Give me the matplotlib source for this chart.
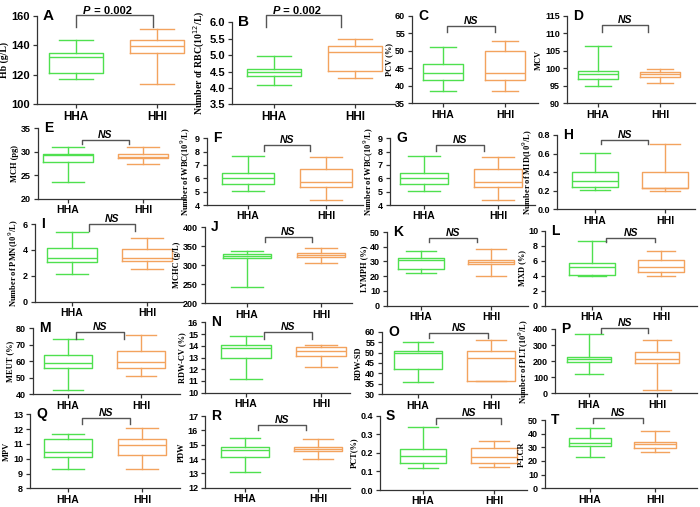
import matplotlib
matplotlib.use("Agg")
import matplotlib.pyplot as plt
from matplotlib.ticker import FormatStrFormatter
import numpy as np

groups = ["HHA", "HHI"]
letters = list("ABCDEFGHIJKLMNOPQRST")
ylabels = ["Hb (g/L)", "Number of RBC(10$^{12}$/L)", "PCV (%)", "MCV",
           "MCH (pg)", "Number of WBC(10$^{9}$/L)", "Number of WBC(10$^{9}$/L)", "Number of MID(10$^{9}$/L)",
           "Number of PMN(10$^{9}$/L)", "MCHC (g/L)", "LYMPH (%)", "MXD (%)",
           "MEUT (%)", "RDW-CV (%)", "RDW-SD", "Number of PLT(10$^{9}$/L)",
           "MPV", "PDW", "PCT(%)", "P-LCR"]
sig = ["P = 0.002", "P = 0.002"] + ["NS"] * 18

# five number summaries: whisker low, q1, median, q3, whisker high
hha = [[117.0, 121.1, 131.9, 134.6, 143.7],
       [4.09, 4.36, 4.48, 4.57, 4.97],
       [38.5, 41.65, 43.6, 46.1, 51.0],
       [95.0, 96.9, 98.5, 99.3, 106.3],
       [23.7, 27.8, 29.3, 29.6, 31.0],
       [5.07, 5.54, 6.0, 6.37, 7.67],
       [5.07, 5.54, 6.0, 6.37, 7.67],
       [0.205, 0.235, 0.305, 0.405, 0.605],
       [2.15, 3.1, 3.36, 4.13, 5.4],
       [243.5, 320, 324.5, 328, 337.5],
       [22.0, 24.7, 31.0, 32.1, 37.1],
       [3.95, 4.15, 5.1, 5.65, 8.6],
       [42.4, 56.0, 59.0, 64.0, 73.6],
       [11.17, 13.0, 13.8, 14.1, 14.8],
       [36.0, 42.0, 49.6, 50.9, 54.9],
       [118, 193, 213, 228, 369],
       [9.28, 10.13, 10.47, 11.31, 11.67],
       [13.07, 14.16, 14.63, 14.86, 15.49],
       [0.12, 0.147, 0.183, 0.22, 0.341],
       [22.7, 30.9, 32.9, 37.0, 44.3]]
hhi = [[113.8, 134.6, 139.6, 143.7, 151.0],
       [4.29, 4.52, 5.09, 5.29, 5.48],
       [38.5, 41.65, 43.7, 50.0, 52.9],
       [95.7, 97.4, 98.3, 99.0, 99.7],
       [27.4, 28.6, 29.0, 29.5, 31.0],
       [4.41, 5.37, 5.75, 6.69, 7.57],
       [4.41, 5.37, 5.75, 6.69, 7.57],
       [0.2, 0.23, 0.23, 0.4, 0.7],
       [2.5, 3.15, 3.36, 4.05, 4.95],
       [304.5, 322, 326.5, 331, 344],
       [20.1, 28.3, 29.4, 31.0, 38.2],
       [4.0, 4.53, 5.2, 6.1, 7.33],
       [51.0, 56.0, 59.7, 66.0, 75.8],
       [12.2, 13.15, 13.55, 13.9, 14.1],
       [36.2, 36.4, 47.5, 50.6, 56.0],
       [18, 187, 213, 259, 332],
       [9.28, 10.25, 10.93, 11.3, 12.1],
       [14.0, 14.55, 14.7, 14.86, 15.37],
       [0.122, 0.147, 0.175, 0.224, 0.265],
       [26.8, 29.7, 32.2, 34.1, 41.9]]

# y range and tick step, decimals of tick labels
yranges = [(100, 160, 20), (3.5, 6.0, 0.5), (35, 60, 5), (90, 115, 5),
           (20, 35, 5), (4, 9, 1), (4, 9, 1), (0, 0.8, 0.2),
           (0, 6, 2), (200, 400, 50), (0, 50, 10), (0, 10, 2),
           (40, 80, 10), (10, 16, 1), (30, 60, 5), (0, 400, 100),
           (8, 13, 1), (12, 17, 1), (0, 0.4, 0.1), (0, 50, 10)]
ydec = [0, 1, 0, 0, 0, 0, 0, 1, 0, 0, 0, 0, 0, 0, 0, 0, 0, 0, 1, 0]

# layout in pixels: spine x, HHA x, HHI x, axis right end, top y, bottom y
layout = [(37, 76, 157, 197, 16, 104.3), (232, 274, 355, 395, 22.3, 104.3),
          (412, 443, 505, 538, 15.7, 103.3), (567, 598, 660, 695, 15.7, 103.3),
          (38, 68, 143, 185, 128.3, 199), (207, 248, 326, 363, 138.3, 205),
          (390, 424, 498, 535, 138.3, 205), (557, 595, 665, 695, 135, 209.3),
          (35, 72, 147, 183, 224, 301.7), (205, 247, 321, 352, 227, 303.3),
          (387, 421, 491, 528, 232, 305.7), (545, 592, 661, 697, 230.7, 305.7),
          (33, 68, 141, 180, 328, 394.3), (205, 246, 321, 350, 322.3, 392.7),
          (382, 418, 491, 527, 331.7, 394.3), (555, 589, 657, 697, 329, 393.3),
          (30, 68, 142, 180, 414.3, 488.3), (205, 245, 318, 350, 416, 487.7),
          (380, 423, 494, 527, 415.7, 490), (545, 590, 655, 697, 420, 488.3)]
# bracket: x left, x right, top, leg end (data units)
brackets = [(1.0, 1.95, 160.7, 152.7), (0.9, 1.83, 6.22, 5.87),
            (1.06, 1.84, 57.1, 55.4), (1.06, 1.81, 112.3, 110.4),
            (1.19, 1.81, 32.5, 31.6), (1.21, 1.8, 8.5, 8.05),
            (1.16, 1.81, 8.5, 8.05), (1.09, 1.76, 0.75, 0.70),
            (1.22, 1.84, 5.98, 5.45), (1.24, 1.88, 374.6, 360),
            (1.11, 1.8, 45.7, 43), (1.21, 1.91, 9.0, 8.45),
            (1.11, 1.77, 77.4, 73.6), (1.24, 1.88, 15.15, 14.6),
            (1.15, 1.96, 59.2, 56.8), (1.18, 1.87, 408, 373),
            (1.19, 1.84, 12.73, 12.35), (1.18, 1.84, 16.37, 16.02),
            (1.19, 2.1, 0.386, 0.354), (1.05, 1.81, 51.7, 47.6)]

W, H = 700, 507
green = "#4fe04f"
orange = "#f3a35e"
sans = "Liberation Sans"
serif = "Liberation Serif"

fig = plt.figure(figsize=(W / 100, H / 100), dpi=100)

for i in range(20):
    sx, xa, xb, rx, ty, by = layout[i]
    unit = xb - xa
    ax = fig.add_axes([sx / W, 1 - by / H, (rx - sx) / W, (by - ty) / H])
    ax.set_xlim(1 - (xa - sx) / unit, 2 + (rx - xb) / unit)
    lo, hi, step = yranges[i]
    ax.set_ylim(lo, hi)
    ax.set_yticks(np.arange(lo, hi + step / 2, step))
    ax.yaxis.set_major_formatter(FormatStrFormatter("%%.%df" % ydec[i]))

    stats = []
    for vals in (hha[i], hhi[i]):
        stats.append(dict(whislo=vals[0], q1=vals[1], med=vals[2], q3=vals[3], whishi=vals[4]))
    art = ax.bxp(stats, positions=[1, 2], widths=0.66, capwidths=0.42, showfliers=False,
                 boxprops=dict(linewidth=1.0), whiskerprops=dict(linewidth=1.0),
                 capprops=dict(linewidth=1.0), medianprops=dict(linewidth=1.0))
    for k, c in enumerate([green, orange]):
        art["boxes"][k].set_color(c)
        art["medians"][k].set_color(c)
        for a in art["whiskers"][2 * k:2 * k + 2] + art["caps"][2 * k:2 * k + 2]:
            a.set_color(c)

    big = i < 2
    tfs = 8 if big else 6.5
    ax.set_xticks([1, 2])
    ax.set_xticklabels(groups, fontsize=8.5 if big else 7.5, fontweight="bold", family=sans)
    for lab in ax.get_yticklabels():
        lab.set_fontsize(tfs)
        lab.set_fontweight("bold")
        lab.set_family(sans)
    ax.tick_params(axis="both", length=3, width=0.9, pad=2, color="#333333")
    ax.tick_params(axis="x", length=3, pad=1.5)
    for s in ["top", "right"]:
        ax.spines[s].set_visible(False)
    for s in ["left", "bottom"]:
        ax.spines[s].set_color("#333333")
        ax.spines[s].set_linewidth(0.9)
    ax.set_ylabel(ylabels[i], fontsize=7 if big else 6, fontweight="bold", family=serif, labelpad=1.5)

    # significance bracket
    x1, x2, yt, yl = brackets[i]
    ax.plot([x1, x1, x2, x2], [yl, yt, yt, yl], color="#555555", lw=1.0, clip_on=False)
    if sig[i] == "NS":
        ax.text((x1 + x2) / 2, yt, "NS", ha="center", va="bottom", fontsize=7.5,
                fontweight="bold", style="italic", family=sans)
    else:
        ax.annotate("P", (x1, yt), xytext=(5, -1), textcoords="offset points", ha="left", va="bottom",
                    fontsize=8, fontweight="bold", style="italic", family=sans, annotation_clip=False)
        ax.annotate(" = 0.002", (x1, yt), xytext=(10.5, -1), textcoords="offset points", ha="left",
                    va="bottom", fontsize=8, fontweight="bold", family=sans, annotation_clip=False)

    # panel letter
    ax.text(6 / (rx - sx), 1.0, letters[i], transform=ax.transAxes, ha="left", va="center",
            fontsize=11 if big else 10, fontweight="bold", family=sans)

fig.savefig("out.png", dpi=100)
